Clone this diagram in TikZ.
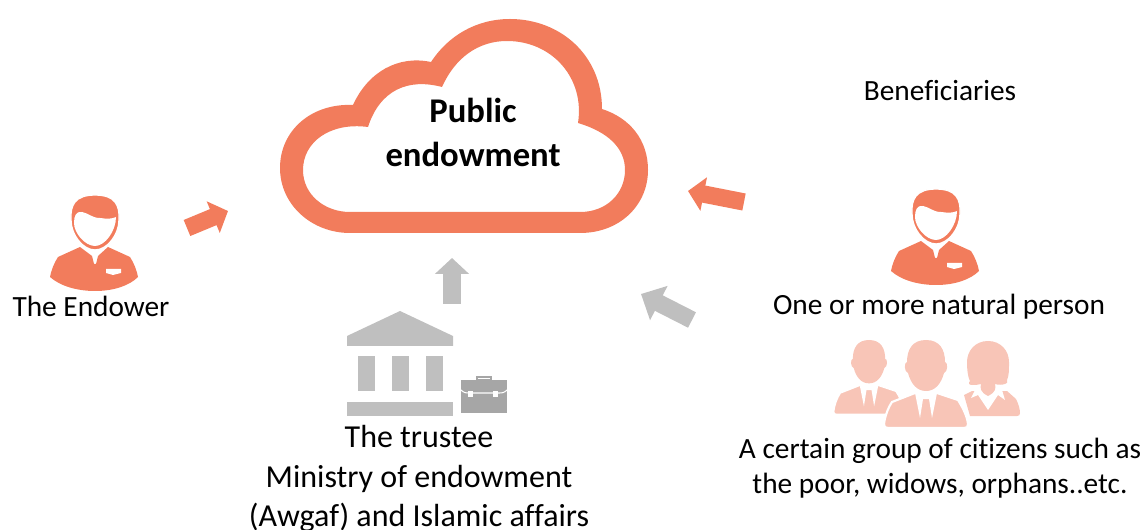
\documentclass[tikz,border=0pt]{standalone}
\usepackage{fontspec}
\setmainfont{Carlito}[Ligatures=CommonOff]
\usetikzlibrary{arrows.meta}
\definecolor{salmon}{HTML}{F27C5C}
\definecolor{paleSalmon}{HTML}{F8C5B7}
\definecolor{midGray}{HTML}{BFBFBF}
\definecolor{darkGray}{HTML}{A6A6A6}
\tikzset{
  label/.style={align=center, font=\fontsize{22}{29.6}\selectfont, inner sep=0pt},
  blockarrow/.style={line width=13pt, -{Triangle[length=12pt, width=25pt]}},
  person/.pic={
    \fill[salmon] (-15,52) -- (-37,62) .. controls (-41,68) and (-44,76) .. (-45,82)
      .. controls (-35,91) and (-18,96) .. (0,96) .. controls (18,96) and (34,91) .. (43,82)
      .. controls (42,76) and (39,68) .. (35,62) -- (13,52) -- (3,61) -- (1,69) -- (-1,69) -- (-3,61) -- cycle;
    \fill[white] (11,74) -- (26,74) -- (26,78) -- (18,80) -- (11,78) -- cycle;
    \fill[salmon, draw=white, line width=1pt] (0,0) .. controls (-20,0) and (-25,10) .. (-24,25)
      .. controls (-24,40) and (-12,55) .. (0,55) .. controls (12,55) and (24,40) .. (24,25)
      .. controls (25,10) and (20,0) .. (0,0) -- cycle;
    \fill[white] (-21,28) .. controls (-21,21) and (-19,16) .. (-13,17) .. controls (-7,18) and (-3,23) .. (5,23)
      .. controls (12,24) and (17,24) .. (21,22) .. controls (21,36) and (10,51) .. (0,51)
      .. controls (-10,51) and (-21,38) .. (-21,28) -- cycle;
  },
  groupman/.pic={
    \fill[paleSalmon, draw=white, line width=1.6pt] (-11,53) -- (-34,62) .. controls (-38,68) and (-41,76) .. (-42,84)
      .. controls (-42,87) and (-41,88) .. (-38,88) -- (38,88) .. controls (41,88) and (42,87) .. (42,84)
      .. controls (41,76) and (37,68) .. (32,60) -- (11,53) -- cycle;
    \fill[white] (-11,53) -- (-6,78) -- (-3,59) -- (3,59) -- (6,78) -- (11,53) -- cycle;
    \fill[paleSalmon] (0,0) .. controls (-14,0) and (-19,10) .. (-19,22) .. controls (-22,22) and (-22,32) .. (-18,33)
      .. controls (-15,44) and (-9,51) .. (0,51) .. controls (9,51) and (15,44) .. (18,33)
      .. controls (22,32) and (22,22) .. (19,22) .. controls (19,10) and (14,0) .. (0,0) -- cycle;
  },
}
\begin{document}
\begin{tikzpicture}[x=0.75pt, y=-0.75pt]
    \useasboundingbox (0,0) rectangle (1144,530);

    % cloud
    \fill[salmon, even odd rule] (350,233) -- (580,233) .. controls (620,233) and (648,205) .. (648,170)
      .. controls (648,140) and (630,118) .. (602,109) .. controls (602,55) and (560,19) .. (510,19)
      .. controls (476,19) and (448,36) .. (431,62) .. controls (398,55) and (368,72) .. (353,105)
      .. controls (312,103) and (280,130) .. (280,168) .. controls (280,205) and (312,233) .. (350,233) -- cycle
      (350,212) -- (580,212) .. controls (607,212) and (625,193) .. (625,170)
      .. controls (625,148) and (608,132) .. (578,123) .. controls (585,78) and (552,41) .. (507,41)
      .. controls (478,41) and (455,58) .. (442,87) .. controls (408,78) and (380,90) .. (368,127)
      .. controls (330,122) and (303,142) .. (303,170) .. controls (303,195) and (325,212) .. (350,212) -- cycle;
    \node[label, font=\fontsize{26}{33}\selectfont\bfseries] (public) at (473,132) {Public\\endowment};

    % people
    \pic at (95,195) {person};
    \pic at (936,189) {person};
    \node[label] (endower) at (91,306) {The Endower};
    \node[label] (beneficiaries) at (940,91) {Beneficiaries};
    \node[label] (natural) at (939,307) {One or more natural person};

    % group
    \pic[scale=0.85] at (869,340) {groupman};
    \fill[paleSalmon] (964,395) -- (972,391) -- (1007,391) -- (1016,399) .. controls (1019,405) and (1020,410) .. (1020,413)
      .. controls (1020,415) and (1019,416) .. (1017,416) -- (970,416) -- cycle;
    \fill[white] (975,390) -- (971,398) -- (978,395) -- (988,410) -- (998,395) -- (1005,400) -- (1002,390) -- cycle;
    \fill[paleSalmon] (988,341) .. controls (975,341) and (967,351) .. (967,362) .. controls (967,370) and (968,378) .. (970,381)
      .. controls (968,383) and (969,385) .. (972,385) .. controls (975,385) and (978,385) .. (981,384)
      .. controls (980,388) and (980,392) .. (988,396) .. controls (996,392) and (996,388) .. (995,384)
      .. controls (998,385) and (1002,385) .. (1005,384) .. controls (1007,384) and (1008,382) .. (1007,380)
      .. controls (1009,376) and (1009,370) .. (1009,362) .. controls (1009,351) and (1001,341) .. (988,341) -- cycle;
    \pic at (926,340) {groupman};
    \node[label, font=\fontsize{22}{26.3}\selectfont] (citizens) at (940,468) {A certain group of citizens such as\\the poor, widows, orphans..etc.};

    % bank
    \fill[midGray] (400,311) -- (453,336) -- (453,346) -- (347,346) -- (347,336) -- cycle;
    \foreach \x in {358, 392, 426}{
      \fill[midGray] (\x,356) rectangle (\x+17,391);
    }
    \fill[midGray] (347,402) rectangle (453,416);
    \draw[darkGray, line width=1.2pt] (477,380) rectangle (491,377);
    \fill[darkGray] (461,380) rectangle (507,413);
    \draw[white, line width=0.8pt] (461,390) .. controls (464,393) and (466,393) .. (470,393) -- (498,393) .. controls (502,393) and (504,393) .. (507,390);
    \fill[white] (468,391) rectangle (473,397);
    \fill[white] (493,391) rectangle (498,397);
    \node[label, font=\fontsize{24}{29.6}\selectfont] (trustee) at (419,479) {The trustee\\Ministry of endowment\\(Awgaf) and Islamic affairs};

    % arrows
    \coordinate (endowerTail) at (187,228);
    \coordinate (endowerHead) at (228,211);
    \coordinate (personTail) at (744,202);
    \coordinate (personHead) at (688,191);
    \coordinate (groupTail) at (692,320);
    \coordinate (groupHead) at (641,294);
    \coordinate (trusteeTail) at (452,304);
    \coordinate (trusteeHead) at (452,258);
    \draw[blockarrow, salmon] (endowerTail) -- (endowerHead);
    \draw[blockarrow, salmon] (personTail) -- (personHead);
    \draw[blockarrow, midGray, -{Triangle[length=15pt, width=28pt]}] (groupTail) -- (groupHead);
    \draw[blockarrow, midGray] (trusteeTail) -- (trusteeHead);
  \end{tikzpicture}
\end{document}
